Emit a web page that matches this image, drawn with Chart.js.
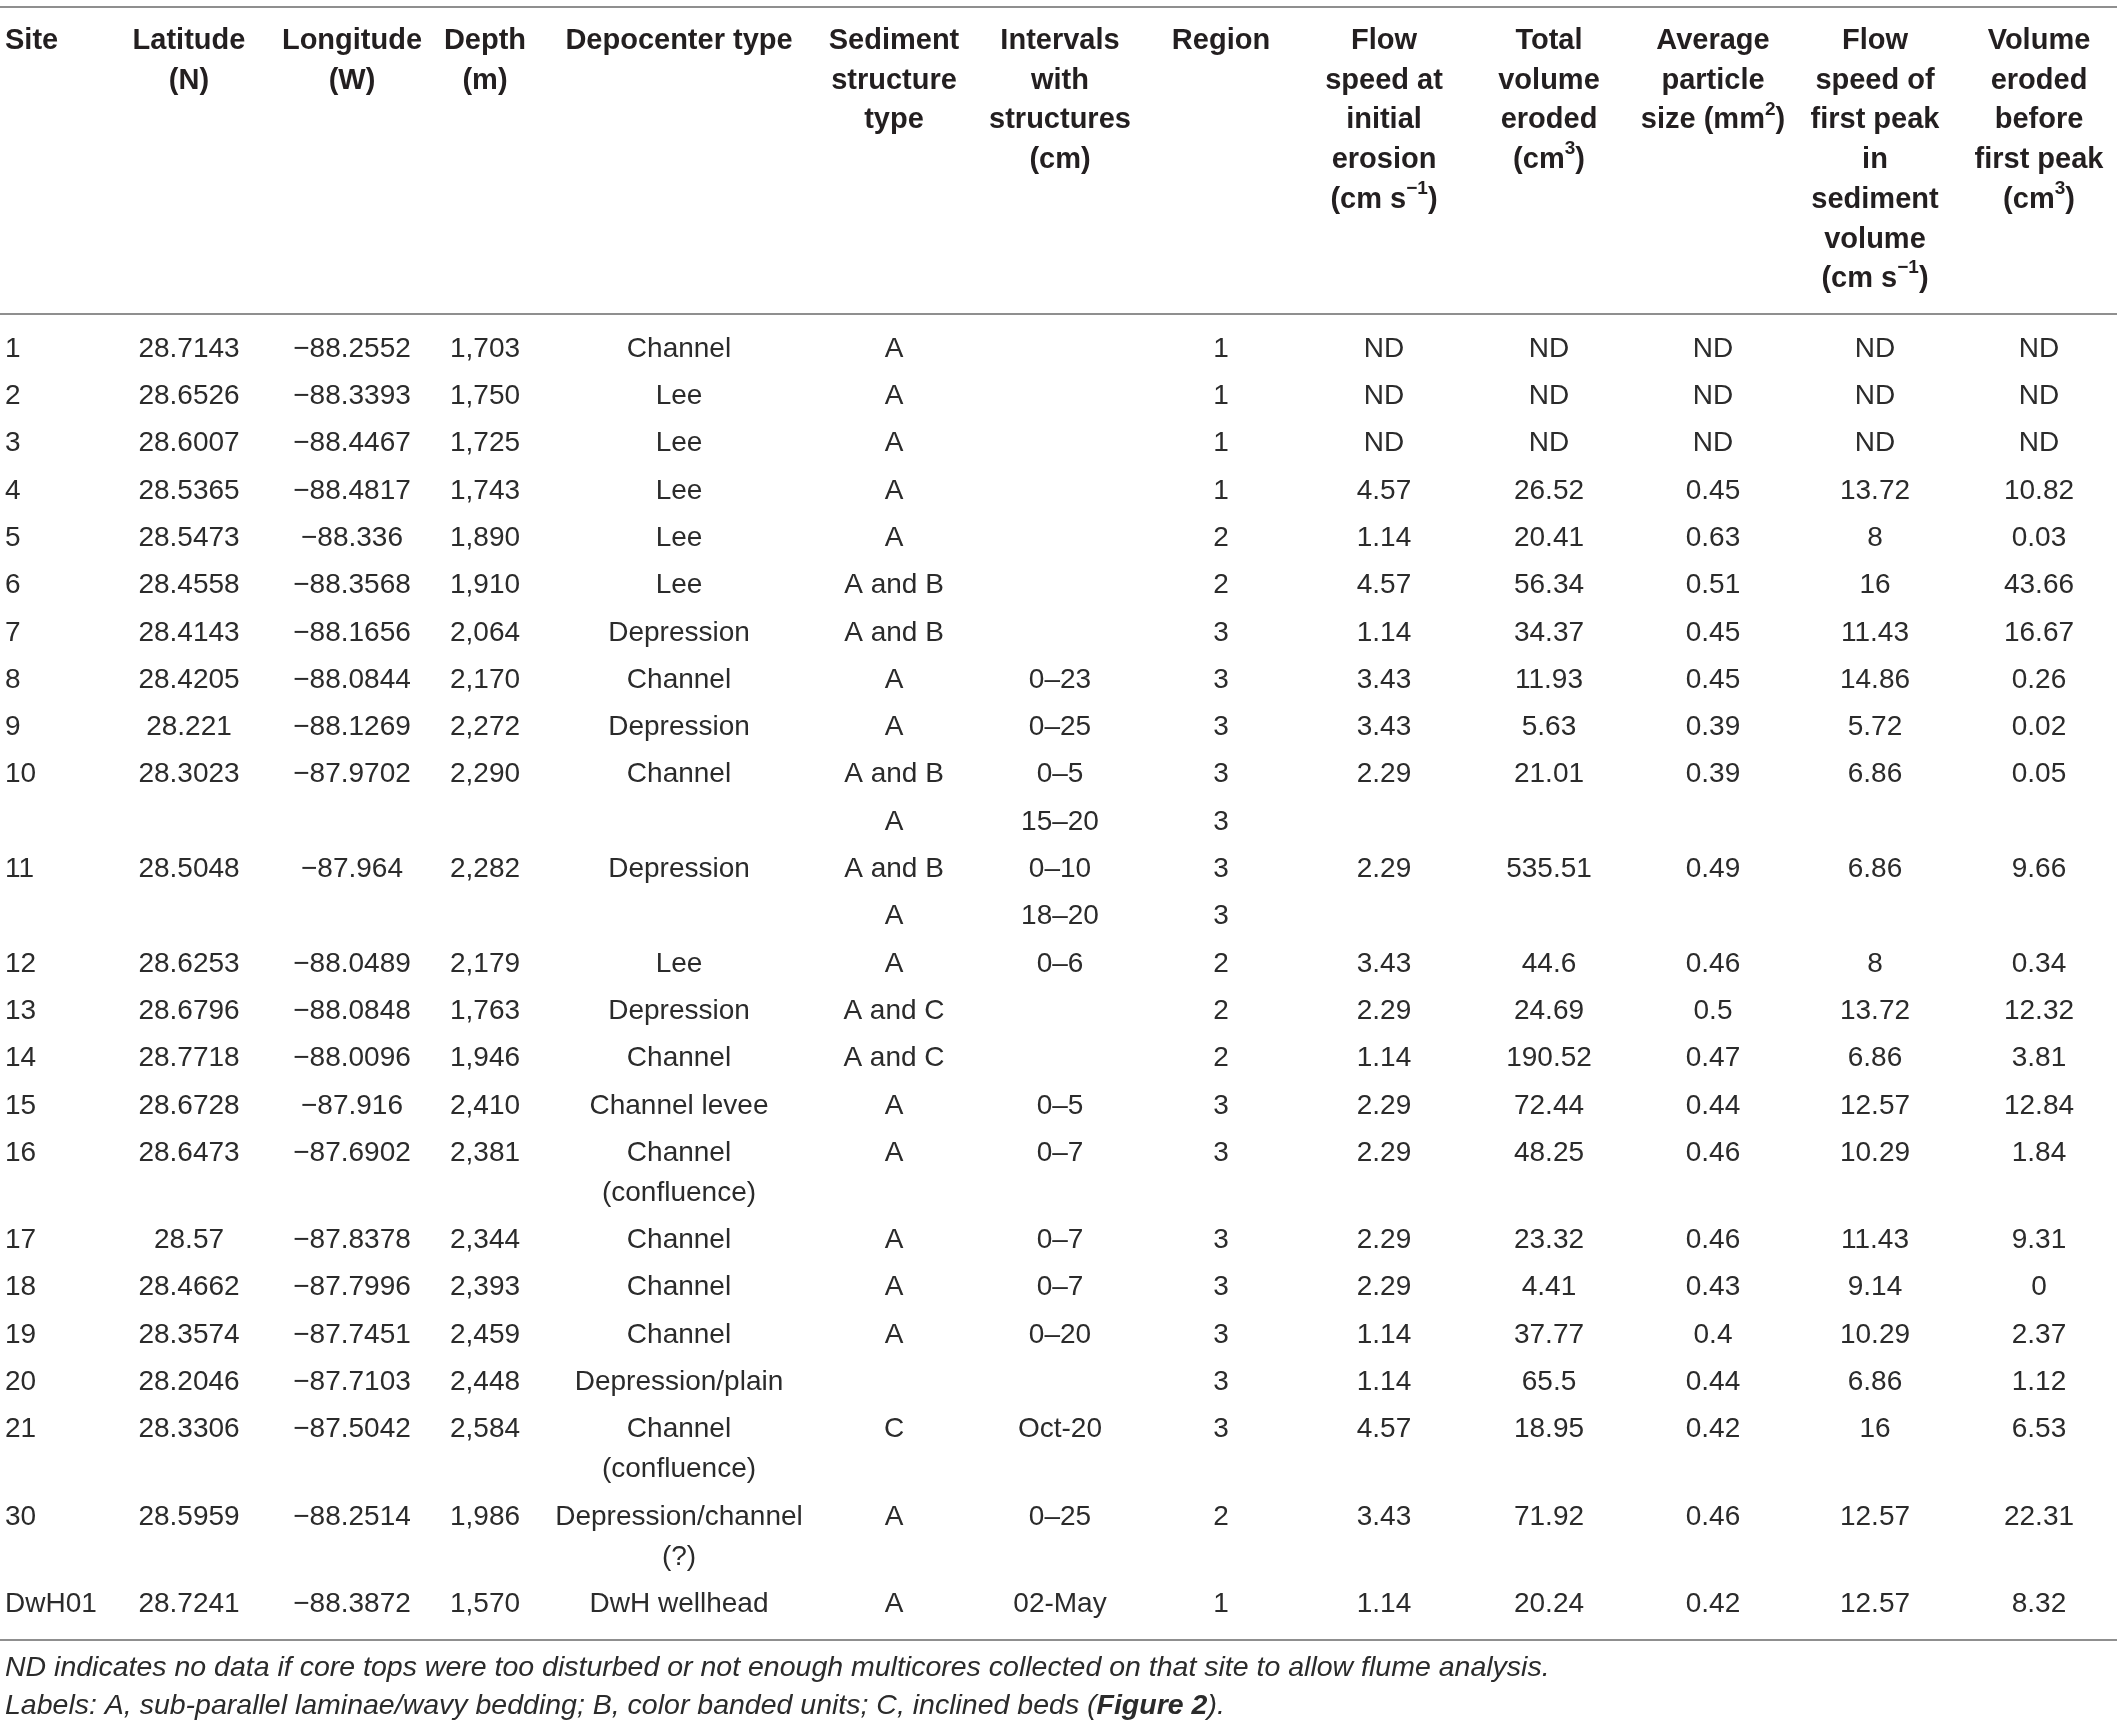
<!DOCTYPE html>
<html>
<head>
<meta charset="utf-8">
<script src="https://cdn.jsdelivr.net/npm/chart.js@4.4.0/dist/chart.umd.min.js"></script>
<style>
  html, body { margin: 0; padding: 0; background: #fff; }
  #caja { width: 2117px; height: 1724px; }
</style>
</head>
<body>
<div id="caja"><canvas id="tabla"></canvas></div>
<script>
// datos de la tabla (null = ND, "" = celda vacia)
const ND = null;
const sitios = ["1", "2", "3", "4", "5", "6", "7", "8", "9", "10", "", "11", "", "12", "13", "14", "15", "16", "17", "18", "19", "20", "21", "30", "DwH01"];
const latitud = [28.7143, 28.6526, 28.6007, 28.5365, 28.5473, 28.4558, 28.4143, 28.4205, 28.221, 28.3023, "", 28.5048, "", 28.6253, 28.6796, 28.7718, 28.6728, 28.6473, 28.57, 28.4662, 28.3574, 28.2046, 28.3306, 28.5959, 28.7241];
const longitud = [-88.2552, -88.3393, -88.4467, -88.4817, -88.336, -88.3568, -88.1656, -88.0844, -88.1269, -87.9702, "", -87.964, "", -88.0489, -88.0848, -88.0096, -87.916, -87.6902, -87.8378, -87.7996, -87.7451, -87.7103, -87.5042, -88.2514, -88.3872];
const profundidad = [1703, 1750, 1725, 1743, 1890, 1910, 2064, 2170, 2272, 2290, "", 2282, "", 2179, 1763, 1946, 2410, 2381, 2344, 2393, 2459, 2448, 2584, 1986, 1570];
const depocentro = ["Channel", "Lee", "Lee", "Lee", "Lee", "Lee", "Depression", "Channel", "Depression", "Channel", "", "Depression", "", "Lee", "Depression", "Channel", "Channel levee", "Channel\n(confluence)", "Channel", "Channel", "Channel", "Depression/plain", "Channel\n(confluence)", "Depression/channel\n(?)", "DwH wellhead"];
const estructura = ["A", "A", "A", "A", "A", "A and B", "A and B", "A", "A", "A and B", "A", "A and B", "A", "A", "A and C", "A and C", "A", "A", "A", "A", "A", "", "C", "A", "A"];
const intervalos = ["", "", "", "", "", "", "", "0–23", "0–25", "0–5", "15–20", "0–10", "18–20", "0–6", "", "", "0–5", "0–7", "0–7", "0–7", "0–20", "", "Oct-20", "0–25", "02-May"];
const region = [1, 1, 1, 1, 2, 2, 3, 3, 3, 3, 3, 3, 3, 2, 2, 2, 3, 3, 3, 3, 3, 3, 3, 2, 1];
const flujoInicial = [ND, ND, ND, 4.57, 1.14, 4.57, 1.14, 3.43, 3.43, 2.29, "", 2.29, "", 3.43, 2.29, 1.14, 2.29, 2.29, 2.29, 2.29, 1.14, 1.14, 4.57, 3.43, 1.14];
const volumenTotal = [ND, ND, ND, 26.52, 20.41, 56.34, 34.37, 11.93, 5.63, 21.01, "", 535.51, "", 44.6, 24.69, 190.52, 72.44, 48.25, 23.32, 4.41, 37.77, 65.5, 18.95, 71.92, 20.24];
const particula = [ND, ND, ND, 0.45, 0.63, 0.51, 0.45, 0.45, 0.39, 0.39, "", 0.49, "", 0.46, 0.5, 0.47, 0.44, 0.46, 0.46, 0.43, 0.4, 0.44, 0.42, 0.46, 0.42];
const flujoPico = [ND, ND, ND, 13.72, 8, 16, 11.43, 14.86, 5.72, 6.86, "", 6.86, "", 8, 13.72, 6.86, 12.57, 10.29, 11.43, 9.14, 10.29, 6.86, 16, 12.57, 12.57];
const volumenAntes = [ND, ND, ND, 10.82, 0.03, 43.66, 16.67, 0.26, 0.02, 0.05, "", 9.66, "", 0.34, 12.32, 3.81, 12.84, 1.84, 9.31, 0, 2.37, 1.12, 6.53, 22.31, 8.32];

const encabezados = [
  ["Site"],
  ["Latitude", "(N)"],
  ["Longitude", "(W)"],
  ["Depth", "(m)"],
  ["Depocenter type"],
  ["Sediment", "structure", "type"],
  ["Intervals", "with", "structures", "(cm)"],
  ["Region"],
  ["Flow", "speed at", "initial", "erosion", "(cm s^{−1})"],
  ["Total", "volume", "eroded", "(cm^{3})"],
  ["Average", "particle", "size (mm^{2})"],
  ["Flow", "speed of", "first peak", "in", "sediment", "volume", "(cm s^{−1})"],
  ["Volume", "eroded", "before", "first peak", "(cm^{3})"]
];
const notas = [
  "ND indicates no data if core tops were too disturbed or not enough multicores collected on that site to allow flume analysis.",
  "Labels: A, sub-parallel laminae/wavy bedding; B, color banded units; C, inclined beds (**Figure 2**)."
];

// disposicion (pixeles de la pagina)
const ANCHO = 2117, ALTO = 1724;
const COL_X = [5, 189, 352, 485, 679, 894, 1060, 1221, 1384, 1549, 1713, 1875, 2039];
const FILA0 = 349, PASO_FILA = 47.3, PASO_LINEA = 40;
const CAB0 = 41, PASO_CAB = 39.7;
const REGLAS = [7, 314, 1640];
const NOTA_Y = [1668, 1706];
const FUENTE = "'Liberation Sans', Arial, Helvetica, sans-serif";

function fmt(v, col) {
  if (v === null) return "ND";
  if (v === "") return "";
  if (typeof v !== "number") return v;
  if (col === 3) return v.toLocaleString("en-US");
  return String(v).replace("-", "−");
}

const columnas = [sitios, latitud, longitud, profundidad, depocentro, estructura, intervalos, region,
  flujoInicial, volumenTotal, particula, flujoPico, volumenAntes];

// posicion vertical de cada fila segun las lineas que ocupa
const filaY = [];
let yAcum = FILA0;
for (let r = 0; r < sitios.length; r++) {
  filaY.push(yAcum);
  const lineas = Math.max(...columnas.map((c, i) => fmt(c[r], i).split("\n").length));
  yAcum += PASO_FILA + (lineas - 1) * PASO_LINEA;
}

const datasets = columnas.map((col, c) => {
  const puntos = [], textos = [];
  col.forEach((v, r) => {
    const t = fmt(v, c);
    if (t === "") return;
    puntos.push({ x: COL_X[c], y: filaY[r] });
    textos.push(t);
  });
  return { data: puntos, textos: textos, pointRadius: 0, pointHoverRadius: 0, showLine: false };
});

// texto con superindices ^{..} y negritas **..**
function trozos(texto) {
  const res = [];
  const re = /\^\{([^}]*)\}|\*\*([^*]*)\*\*/g;
  let ult = 0, m;
  while ((m = re.exec(texto)) !== null) {
    if (m.index > ult) res.push({ t: texto.slice(ult, m.index) });
    if (m[1] !== undefined) res.push({ t: m[1], sup: true });
    else res.push({ t: m[2], bold: true });
    ult = re.lastIndex;
  }
  if (ult < texto.length) res.push({ t: texto.slice(ult) });
  return res;
}

function dibujarRico(ctx, texto, px, py, alin, estilo, tam) {
  const partes = trozos(texto);
  const fuente = p => {
    const s = p.sup ? Math.round(tam * 0.66) : tam;
    let e = estilo;
    if (p.bold) e = (estilo.includes("italic") ? "italic " : "") + "bold";
    return e + " " + s + "px " + FUENTE;
  };
  let total = 0;
  partes.forEach(p => { ctx.font = fuente(p); p.w = ctx.measureText(p.t).width; total += p.w; });
  let xx = alin === "left" ? px : px - total / 2;
  ctx.textAlign = "left";
  ctx.textBaseline = "middle";
  partes.forEach(p => {
    ctx.font = fuente(p);
    ctx.fillText(p.t, xx, p.sup ? py - tam * 0.38 : py);
    xx += p.w;
  });
}

const pluginTabla = {
  id: "pluginTabla",
  afterDatasetsDraw(chart) {
    const { ctx, scales: { x, y } } = chart;
    ctx.save();
    // lineas horizontales
    ctx.strokeStyle = "#8f8f8f";
    ctx.lineWidth = 2;
    REGLAS.forEach(v => {
      const py = y.getPixelForValue(v);
      ctx.beginPath();
      ctx.moveTo(x.getPixelForValue(0), py);
      ctx.lineTo(x.getPixelForValue(ANCHO), py);
      ctx.stroke();
    });
    // encabezados
    ctx.fillStyle = "#231f20";
    encabezados.forEach((lineas, c) => {
      lineas.forEach((l, k) => {
        dibujarRico(ctx, l, x.getPixelForValue(COL_X[c]), y.getPixelForValue(CAB0 + k * PASO_CAB),
          c === 0 ? "left" : "center", "bold", 29);
      });
    });
    // celdas
    ctx.fillStyle = "#2b2b2b";
    chart.data.datasets.forEach((ds, d) => {
      chart.getDatasetMeta(d).data.forEach((el, i) => {
        ds.textos[i].split("\n").forEach((l, k) => {
          const py = y.getPixelForValue(ds.data[i].y + k * PASO_LINEA);
          dibujarRico(ctx, l, el.x, py, d === 0 ? "left" : "center", "normal", 28);
        });
      });
    });
    // notas
    notas.forEach((n, k) => {
      dibujarRico(ctx, n, x.getPixelForValue(COL_X[0]), y.getPixelForValue(NOTA_Y[k]), "left", "italic", 28.5);
    });
    ctx.restore();
  }
};

new Chart(document.getElementById("tabla"), {
  type: "scatter",
  data: { datasets: datasets },
  options: {
    responsive: true,
    maintainAspectRatio: false,
    animation: false,
    events: [],
    layout: { padding: 0 },
    plugins: { legend: { display: false }, tooltip: { enabled: false } },
    scales: {
      x: { type: "linear", display: false, min: 0, max: ANCHO },
      y: { type: "linear", display: false, min: 0, max: ALTO, reverse: true }
    }
  },
  plugins: [pluginTabla]
});
</script>
</body>
</html>
